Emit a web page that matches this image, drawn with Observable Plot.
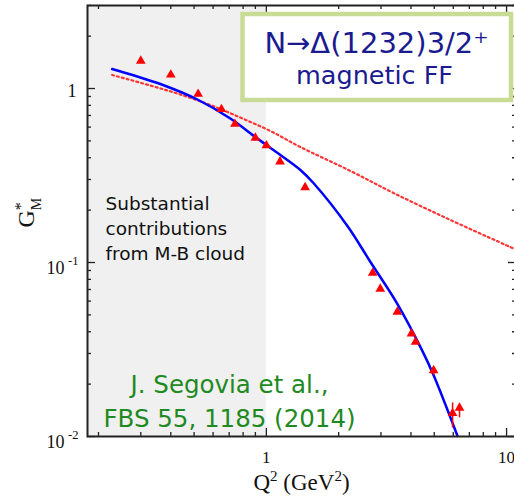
<!DOCTYPE html>
<html>
<head>
<meta charset="utf-8">
<script src="https://cdn.jsdelivr.net/npm/d3@7"></script>
<script src="https://cdn.jsdelivr.net/npm/@observablehq/plot@0.6"></script>
<style>
  html, body { margin: 0; padding: 0; background: #fff; }
  #chart svg { display: block; }
</style>
</head>
<body>
<div id="chart"></div>
<script>
// N -> Delta(1232) magnetic transition form factor G*_M versus Q^2

// Experimental points (red triangles)
const dataQ2 = [0.30, 0.40, 0.52, 0.65, 0.74, 0.90, 1.00, 1.14, 1.45, 2.77, 2.98, 3.51, 4.02, 4.18, 4.97, 5.96, 6.37];
const dataGM = [1.44, 1.20, 0.93, 0.76, 0.625, 0.52, 0.47, 0.38, 0.27, 0.087, 0.0705, 0.052, 0.039, 0.035, 0.024, 0.0136, 0.0146];

// Error bars on the high-Q^2 points
const errQ2 = [4.97, 5.96, 6.37];
const errLow = [0.0225, 0.0112, 0.0128];
const errHigh = [0.0249, 0.0156, 0.0152];

// Dressed-quark core calculation (solid blue)
const coreQ2 = [0.228, 0.290, 0.362, 0.521, 0.708, 0.900, 1.000, 1.144, 1.386, 1.570, 2.175, 2.712, 3.514, 4.424, 4.965, 6.249];
const coreGM = [1.295, 1.172, 1.061, 0.859, 0.672, 0.526, 0.4735, 0.4148, 0.3401, 0.2863, 0.1621, 0.1007, 0.0577, 0.0318, 0.0226, 0.01007];

// Comparison curve (red dotted)
const altQ2 = [0.228, 0.329, 0.438, 0.584, 0.779, 1.039, 1.386, 2.239, 3.382, 5.843, 10.59];
const altGM = [1.196, 1.040, 0.924, 0.804, 0.681, 0.570, 0.461, 0.336, 0.251, 0.1755, 0.1211];

// Axis ticks and labels
const xMajor = [1, 10];
const xTickLabels = ["1", "10"];
const xMinor = [0.2, 0.3, 0.4, 0.5, 0.6, 0.7, 0.8, 0.9, 2, 3, 4, 5, 6, 7, 8, 9];
const yMajor = [0.01, 0.1, 1];
const yMinor = [0.02, 0.03, 0.04, 0.05, 0.06, 0.07, 0.08, 0.09, 0.2, 0.3, 0.4, 0.5, 0.6, 0.7, 0.8, 0.9, 2, 3];
const yPowerTicks = [0.01, 0.1];
const yPowerBase = ["10", "10"];
const yPowerExp = ["-2", "-1"];
const yUnitTick = [1];
const yUnitLabel = ["1"];

const points = dataQ2.map((q, i) => ({q, g: dataGM[i]}));
const errors = errQ2.map((q, i) => ({q, lo: errLow[i], hi: errHigh[i]}));
const core = coreQ2.map((q, i) => ({q, g: coreGM[i]}));
const alt = altQ2.map((q, i) => ({q, g: altGM[i]}));

const W = 514, H = 504;
const mL = 87, mR = -2, mT = 5, mB = 68;
const innerW = W - mL - mR, innerH = H - mT - mB;
const serif = "'Liberation Serif', 'Times New Roman', serif";
const sans = "'DejaVu Sans', sans-serif";
const ink = "#111";
const major = 8, minor = 4;
const tickStyle = {stroke: "#222", strokeWidth: 1.3};

const chart = Plot.plot({
  width: W,
  height: H,
  marginLeft: mL,
  marginRight: mR,
  marginTop: mT,
  marginBottom: mB,
  style: {background: "#fff", fontFamily: serif},
  x: {type: "log", domain: [0.18, 11.0], axis: null},
  y: {type: "log", domain: [0.01, 3], axis: null},
  marks: [
    // shaded low-Q^2 region
    Plot.rect([{x1: 0.18, x2: 1}], {x1: "x1", x2: "x2", fill: "#f0f0f0"}),

    // inward ticks on all four sides
    Plot.tickX(xMajor, {x: d => d, insetTop: innerH - major, ...tickStyle}),
    Plot.tickX(xMinor, {x: d => d, insetTop: innerH - minor, ...tickStyle}),
    Plot.tickX(xMajor, {x: d => d, insetBottom: innerH - major, ...tickStyle}),
    Plot.tickX(xMinor, {x: d => d, insetBottom: innerH - minor, ...tickStyle}),
    Plot.tickY(yMajor, {y: d => d, insetRight: innerW - major, ...tickStyle}),
    Plot.tickY(yMinor, {y: d => d, insetRight: innerW - minor, ...tickStyle}),
    Plot.tickY(yMajor, {y: d => d, insetLeft: innerW - major, ...tickStyle}),
    Plot.tickY(yMinor, {y: d => d, insetLeft: innerW - minor, ...tickStyle}),

    // tick labels
    Plot.text(xMajor, {x: d => d, text: xTickLabels, frameAnchor: "bottom", dy: 21, lineAnchor: "middle",
      textAnchor: "middle", fontSize: 17, fontFamily: serif, fill: ink}),
    Plot.text(yPowerTicks, {y: d => d, text: yPowerBase, frameAnchor: "left", dx: -23, dy: 5.5, lineAnchor: "middle",
      textAnchor: "end", fontSize: 18, fontFamily: serif, fill: ink}),
    Plot.text(yPowerTicks, {y: d => d, text: yPowerExp, frameAnchor: "left", dx: -9, dy: -2, lineAnchor: "middle",
      textAnchor: "end", fontSize: 12.5, fontFamily: serif, fill: ink}),
    Plot.text(yUnitTick, {y: d => d, text: yUnitLabel, frameAnchor: "left", dx: -11, dy: 2.5, lineAnchor: "middle",
      textAnchor: "end", fontSize: 18, fontFamily: serif, fill: ink}),

    // curves
    Plot.line(alt, {x: "q", y: "g", stroke: "#ff3535", strokeWidth: 2.2, strokeDasharray: "2,3", curve: "catmull-rom"}),
    Plot.line(core, {x: "q", y: "g", stroke: "#0000ff", strokeWidth: 2.5, curve: "catmull-rom"}),

    // data with error bars
    Plot.ruleX(errors, {x: "q", y1: "lo", y2: "hi", stroke: "#ff0000", strokeWidth: 1.5}),
    Plot.dot(points, {x: "q", y: "g", symbol: "triangle", r: 3.6, fill: "#ff0000", stroke: "none"}),

    // annotations (anchored at the baseline of the last line)
    Plot.text(["Substantial\ncontributions\nfrom M-B cloud"], {
      frameAnchor: "top-left", dx: 105 - mL, dy: 259 - mT, textAnchor: "start", lineAnchor: "bottom",
      lineHeight: 1.351, fontSize: 18.5, fontFamily: sans, fill: ink}),
    Plot.text(["J. Segovia et al.,\nFBS 55, 1185 (2014)"], {
      frameAnchor: "top-left", dx: 229 - mL, dy: 426 - mT, textAnchor: "middle", lineAnchor: "bottom",
      lineHeight: 1.36, fontSize: 24.5, fontFamily: sans, fill: "#1f8a1f"}),

    // title box
    Plot.frame({fill: "#fff", stroke: "#c8dc96", strokeWidth: 4.5, insetLeft: 155, insetRight: 5.5, insetTop: 8.5, insetBottom: 336.5}),
    Plot.text(["N\u2192\u0394(1232)3/2\u207A"], {
      frameAnchor: "top-left", dx: 376 - mL, dy: 52 - mT, textAnchor: "middle", lineAnchor: "bottom",
      fontSize: 29, fontFamily: sans, fill: "#1b1b8f"}),
    Plot.text(["magnetic FF"], {
      frameAnchor: "top-left", dx: 374 - mL, dy: 83 - mT, textAnchor: "middle", lineAnchor: "bottom",
      fontSize: 25.5, fontFamily: sans, fill: "#1b1b8f"}),

    // axis titles (super/subscripts set below)
    Plot.text(["Q2 (GeV2)"], {frameAnchor: "bottom", dx: 301 - (mL + innerW / 2), dy: 53, textAnchor: "middle",
      lineAnchor: "bottom", fontSize: 23, fontFamily: serif, fill: ink}),
    Plot.text(["G*M"], {frameAnchor: "left", dx: 33 - mL, dy: 227 - (mT + innerH / 2), rotate: -90, textAnchor: "start",
      lineAnchor: "bottom", fontSize: 24, fontFamily: serif, fill: ink}),

    Plot.frame({stroke: "#222", strokeWidth: 2})
  ]
});

// Typeset the superscripts and subscripts of the axis titles
d3.select(chart).selectAll("text").each(function() {
  const t = d3.select(this);
  const s = t.text();
  if (s === "Q2 (GeV2)") {
    t.text(null);
    t.append("tspan").text("Q");
    t.append("tspan").attr("font-size", 15).attr("dy", -9).text("2");
    t.append("tspan").attr("dy", 9).text(" (GeV");
    t.append("tspan").attr("font-size", 15).attr("dy", -9).text("2");
    t.append("tspan").attr("dy", 9).text(")");
  } else if (s === "G*M") {
    t.text(null);
    t.append("tspan").text("G");
    t.append("tspan").attr("font-size", 16).attr("dy", -8).text("*");
    t.append("tspan").attr("font-size", 14).attr("dx", -8).attr("dy", 15).text("M");
  }
});

document.getElementById("chart").append(chart);
</script>
</body>
</html>
